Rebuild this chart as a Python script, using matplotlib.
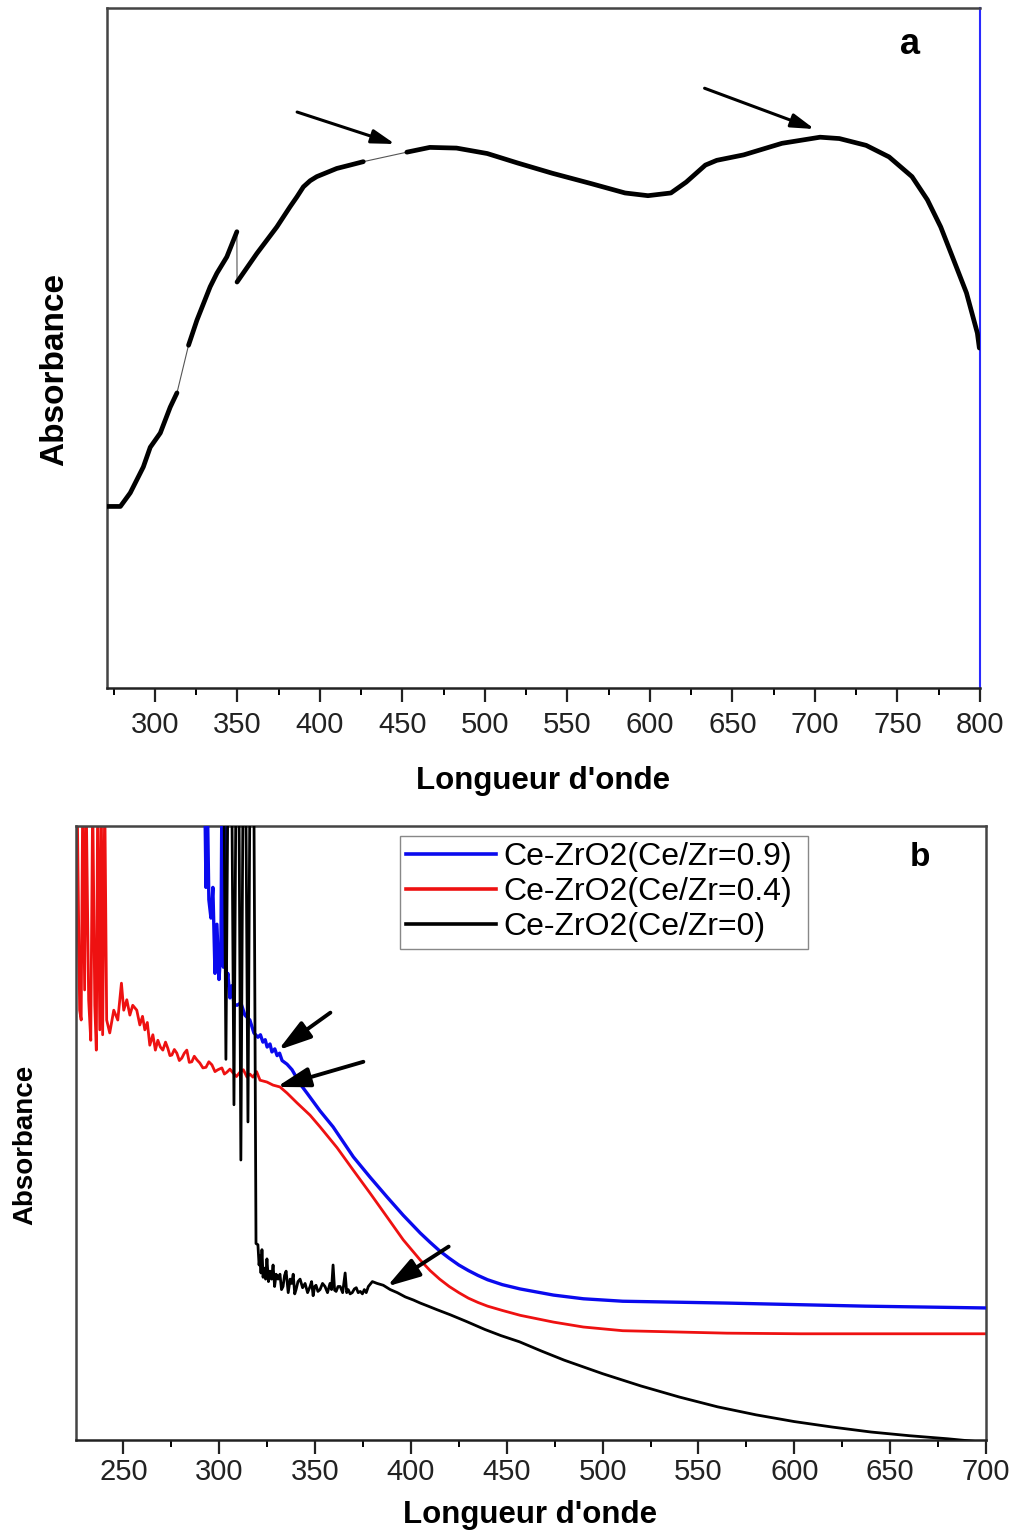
import matplotlib
matplotlib.use("Agg")
import matplotlib.pyplot as plt
from matplotlib.ticker import MultipleLocator
import numpy as np

# ---------------- Panel a data (wavelength nm, absorbance a.u.) ----------------
wl_a = [271.0, 279.1, 285.1, 293.0, 297.2, 303.3, 309.3, 313.4,
        320.4, 325.5, 333.5, 337.6, 343.6, 349.7,
        349.8, 361.8, 373.9, 382.0, 386.0, 390.0, 394.1, 398.1, 410.2, 418.3, 426.3,
        452.7, 466.6, 482.8, 501.4, 519.9, 540.8, 564.0, 584.9, 598.8, 612.7,
        622.0, 633.6, 640.5, 656.8, 680.0, 703.1, 714.8, 731.0, 744.9, 758.8,
        768.1, 776.2, 783.3, 791.8, 798.4, 799.6]
abs_a = [0.267, 0.267, 0.287, 0.325, 0.354, 0.375, 0.413, 0.434,
         0.504, 0.541, 0.590, 0.610, 0.634, 0.671,
         0.597, 0.639, 0.678, 0.708, 0.722, 0.737, 0.746, 0.752, 0.764, 0.769, 0.774,
         0.788, 0.795, 0.794, 0.786, 0.772, 0.757, 0.742, 0.728, 0.724, 0.728,
         0.744, 0.769, 0.776, 0.784, 0.801, 0.810, 0.808, 0.798, 0.781, 0.752,
         0.718, 0.678, 0.634, 0.581, 0.522, 0.500]
# measured (dense) segments of panel a, as index ranges into the arrays above
segments_a = [(0, 8), (8, 14), (14, 25), (25, 51)]
xticks_a = [300, 350, 400, 450, 500, 550, 600, 650, 700, 750, 800]

# ---------------- Panel b data ----------------
labels_b = ["Ce-ZrO2(Ce/Zr=0.9)", "Ce-ZrO2(Ce/Zr=0.4)", "Ce-ZrO2(Ce/Zr=0)"]

wl_blue = [292.5, 293.1, 293.8, 294.6, 295.7, 296.7, 297.8, 298.8, 299.9, 300.9,
           301.4, 302.2, 303.0, 303.8, 304.5, 305.6, 306.6, 307.7, 309.3, 311.3,
           313.4, 316.0, 318.1, 320.2, 321.5, 322.8, 324.0, 325.0, 326.5, 327.5,
           329.0, 330.2, 331.5, 332.8, 335.4, 338.0, 342.2, 345.8, 352.6, 359.4,
           370.0, 378.7, 387.5, 396.0, 404.9, 410.0, 415.0, 420.0, 425.0, 430.0,
           435.0, 440.0, 447.7, 457.0, 474.4, 490.0, 510.5, 564.8, 636.9, 701.0]
abs_blue = [1.05, 0.90, 1.05, 0.88, 0.85, 0.90, 0.76, 0.84, 0.75, 0.80,
            1.05, 0.77, 1.05, 0.74, 0.76, 0.72, 0.74, 0.71, 0.708, 0.712,
            0.692, 0.684, 0.663, 0.656, 0.660, 0.648, 0.652, 0.640, 0.645, 0.632,
            0.637, 0.626, 0.630, 0.618, 0.612, 0.603, 0.580, 0.565, 0.536, 0.510,
            0.461, 0.428, 0.396, 0.366, 0.337, 0.322, 0.308, 0.296, 0.285, 0.276,
            0.268, 0.261, 0.253, 0.246, 0.236, 0.230, 0.226, 0.223, 0.218, 0.215]

wl_red = [225.1, 225.9, 227.2, 228.0, 228.8, 229.8, 230.6, 231.9, 233.0, 234.0,
          235.1, 235.9, 236.6, 237.7, 238.5, 239.2, 240.3, 241.3, 242.9, 245.0,
          247.1, 249.0, 250.2, 251.8, 253.4, 254.9, 257.0, 258.6, 260.0, 261.2,
          262.5, 263.8, 265.4, 266.7, 268.0, 269.3, 270.6, 272.0, 273.2, 274.3,
          275.3, 276.6, 277.9, 279.2, 280.5, 281.8, 283.1, 284.4, 285.7, 287.0,
          288.4, 289.9, 291.5, 293.1, 294.6, 296.2, 297.8, 299.3, 301.4, 302.7,
          304.0, 305.6, 307.2, 309.0, 310.8, 312.6, 314.5, 316.0, 317.6, 319.5,
          321.3, 324.9, 328.1, 331.7, 335.4, 340.6, 347.4, 352.6, 361.5, 369.8,
          378.7, 387.6, 396.0, 404.9, 410.0, 415.0, 420.0, 425.0, 430.0, 435.0,
          440.0, 447.7, 457.1, 474.4, 490.0, 510.5, 564.8, 603.4, 701.0]
abs_red = [0.717, 1.05, 0.700, 0.684, 1.05, 0.733, 1.05, 0.717, 0.651, 1.05,
           0.708, 0.635, 1.05, 0.668, 1.05, 0.660, 1.05, 0.684, 0.663, 0.700,
           0.684, 0.744, 0.700, 0.717, 0.692, 0.708, 0.700, 0.676, 0.690, 0.668,
           0.680, 0.643, 0.660, 0.635, 0.651, 0.640, 0.635, 0.648, 0.638, 0.626,
           0.627, 0.636, 0.630, 0.618, 0.622, 0.630, 0.635, 0.615, 0.616, 0.625,
           0.619, 0.614, 0.606, 0.607, 0.616, 0.611, 0.600, 0.603, 0.606, 0.596,
           0.599, 0.604, 0.598, 0.592, 0.599, 0.603, 0.591, 0.596, 0.591, 0.600,
           0.586, 0.583, 0.578, 0.575, 0.565, 0.549, 0.529, 0.510, 0.476, 0.440,
           0.402, 0.363, 0.326, 0.293, 0.276, 0.262, 0.250, 0.240, 0.231, 0.224,
           0.218, 0.211, 0.203, 0.192, 0.184, 0.178, 0.174, 0.173, 0.173]

wl_black = [302.5, 303.5, 304.5, 306.6, 307.7, 308.7, 310.3, 311.3, 312.4, 313.9,
            315.0, 316.0, 318.1, 319.2, 320.2, 320.8, 321.3, 321.8, 322.3, 322.9,
            323.4, 324.2, 324.9, 325.7, 326.5, 327.3, 328.1, 328.9, 329.7, 330.7,
            331.7, 332.5, 333.3, 334.1, 334.9, 336.0, 337.0, 337.8, 338.6, 339.4,
            340.1, 341.1, 342.2, 343.5, 344.8, 346.1, 347.4, 348.2, 349.0, 349.8,
            350.5, 351.5, 352.6, 353.9, 355.2, 356.5, 357.8, 358.6, 359.4, 360.2,
            361.0, 362.0, 363.1, 364.4, 365.7, 366.5, 367.3, 368.3, 369.4, 370.5,
            371.5, 372.5, 373.6, 374.7, 375.7, 376.7, 377.8, 379.9, 382.4, 385.6,
            389.2, 392.9, 397.1, 401.3, 404.9, 409.0, 413.8, 420.5, 429.0, 438.6,
            447.0, 456.6, 468.0, 480.0, 490.0, 500.0, 520.0, 540.0, 560.0, 580.0,
            600.0, 620.0, 640.0, 660.0, 680.0, 700.0]
abs_black = [1.05, 0.620, 1.05, 1.05, 0.546, 1.05, 1.05, 0.456, 1.05, 1.05,
             0.518, 1.05, 1.05, 0.320, 0.318, 0.285, 0.300, 0.272, 0.310, 0.265,
             0.280, 0.262, 0.295, 0.258, 0.275, 0.262, 0.285, 0.250, 0.270, 0.262,
             0.270, 0.245, 0.250, 0.268, 0.275, 0.240, 0.262, 0.255, 0.270, 0.238,
             0.245, 0.258, 0.262, 0.248, 0.255, 0.240, 0.250, 0.258, 0.235, 0.250,
             0.252, 0.242, 0.245, 0.255, 0.250, 0.240, 0.255, 0.245, 0.285, 0.244,
             0.242, 0.250, 0.250, 0.240, 0.272, 0.240, 0.245, 0.238, 0.240, 0.246,
             0.248, 0.240, 0.242, 0.238, 0.245, 0.240, 0.250, 0.258, 0.255, 0.252,
             0.245, 0.240, 0.233, 0.228, 0.223, 0.218, 0.212, 0.204, 0.193, 0.180,
             0.170, 0.160, 0.145, 0.130, 0.119, 0.108, 0.088, 0.070, 0.054, 0.041,
             0.030, 0.021, 0.013, 0.007, 0.002, -0.004]
xticks_b = [250, 300, 350, 400, 450, 500, 550, 600, 650, 700]

# ---------------- figure ----------------
TICKFONT = ["Liberation Sans Narrow", "Liberation Sans", "DejaVu Sans"]
LABFONT = ["Liberation Sans Narrow", "Liberation Sans", "DejaVu Sans"]
YLABFONT = ["Liberation Sans", "DejaVu Sans"]

fig = plt.figure(figsize=(10.15, 15.35), dpi=100)
ax_a = fig.add_axes([107/1015, 1-688/1535, (980-107)/1015, (688-8)/1535])
ax_b = fig.add_axes([76/1015, 1-1440/1535, (986-76)/1015, (1440-826)/1535])


def style_axes(ax, xticks, xlim, pad):
    ax.set_xlim(*xlim)
    ax.set_ylim(0, 1)
    ax.set_yticks([])
    ax.set_xticks(xticks)
    ax.xaxis.set_minor_locator(MultipleLocator(25))
    ax.tick_params(axis='x', which='major', direction='out', length=10, width=1.6,
                   pad=pad, labelsize=21, colors='#222222')
    ax.tick_params(axis='x', which='minor', direction='out', length=5, width=1.4)
    for lab in ax.get_xticklabels():
        lab.set_family(TICKFONT)
    for s in ax.spines.values():
        s.set_linewidth(1.8)
        s.set_color('#444444')
    ax.spines['bottom'].set_color('#222222')


# ---- panel a ----
style_axes(ax_a, xticks_a, (271, 800), 6.8)
ax_a.spines['right'].set_color('#2a2aff')
ax_a.spines['right'].set_linewidth(1.5)
wa = np.array(wl_a)
aa = np.array(abs_a)
ax_a.plot(wa, aa, color='#555555', lw=0.8, zorder=2)
for i0, i1 in segments_a:
    ax_a.plot(wa[i0:i1], aa[i0:i1], color='black', lw=3.4, zorder=3,
              solid_capstyle='round', solid_joinstyle='round')

arrow_a = dict(arrowstyle='-|>,head_length=1.0,head_width=0.3', color='black',
               lw=2.2, mutation_scale=14, shrinkA=0, shrinkB=0)
ax_a.annotate('', xy=(445.5, 0.800), xytext=(386.2, 0.847), arrowprops=arrow_a)
ax_a.annotate('', xy=(699.7, 0.822), xytext=(633.1, 0.882), arrowprops=arrow_a)
ax_a.text(0.92, 0.946, 'a', transform=ax_a.transAxes, fontsize=26,
          fontweight='bold', family=YLABFONT, ha='center', va='center')

ax_a.set_xlabel("Longueur d'onde", fontsize=22.5, fontweight='bold', family=LABFONT,
                va='center')
ax_a.xaxis.set_label_coords(0.499, -0.137)
ax_a.set_ylabel("Absorbance", fontsize=24, fontweight='bold', family=YLABFONT,
                va='center')
ax_a.yaxis.set_label_coords(-0.0596, 0.468)

# ---- panel b ----
style_axes(ax_b, xticks_b, (225.3, 700), 3.2)
ax_b.plot(wl_blue, abs_blue, color='#0a0aee', lw=2.4, label=labels_b[0], zorder=3,
          solid_joinstyle='round')
ax_b.plot(wl_red, abs_red, color='#ee1111', lw=2.0, label=labels_b[1], zorder=2,
          solid_joinstyle='round')
ax_b.plot(wl_black, abs_black, color='black', lw=2.0, label=labels_b[2], zorder=4,
          solid_joinstyle='round')

arrow_b = dict(arrowstyle='-|>,head_length=1.0,head_width=0.3', color='black',
               lw=2.8, mutation_scale=20, shrinkA=0, shrinkB=0)
ax_b.annotate('', xy=(330.8, 0.635), xytext=(358.0, 0.696), arrowprops=arrow_b)
ax_b.annotate('', xy=(330.0, 0.575), xytext=(375.2, 0.616), arrowprops=arrow_b)
ax_b.annotate('', xy=(387.5, 0.250), xytext=(419.7, 0.315), arrowprops=arrow_b)
ax_b.text(0.927, 0.948, 'b', transform=ax_b.transAxes, fontsize=24,
          fontweight='bold', family=YLABFONT, ha='center', va='center')

leg = ax_b.legend(loc='upper left', bbox_to_anchor=(0.356, 0.803, 0.448, 0.181),
                  mode='expand', borderaxespad=0,
                  fancybox=False, framealpha=1, edgecolor='#888888',
                  prop={'family': YLABFONT, 'size': 23}, handlelength=2.8,
                  handletextpad=0.25, labelspacing=0.16, borderpad=0.2)
leg.get_frame().set_linewidth(1.0)
for ln in leg.get_lines():
    ln.set_linewidth(2.6)

ax_b.set_xlabel("Longueur d'onde", fontsize=22.5, fontweight='bold', family=LABFONT,
                va='center')
ax_b.xaxis.set_label_coords(0.499, -0.122)
ax_b.set_ylabel("Absorbance", fontsize=20, fontweight='bold', family=YLABFONT,
                va='center')
ax_b.yaxis.set_label_coords(-0.056, 0.48)

fig.savefig("out.png", dpi=100)
